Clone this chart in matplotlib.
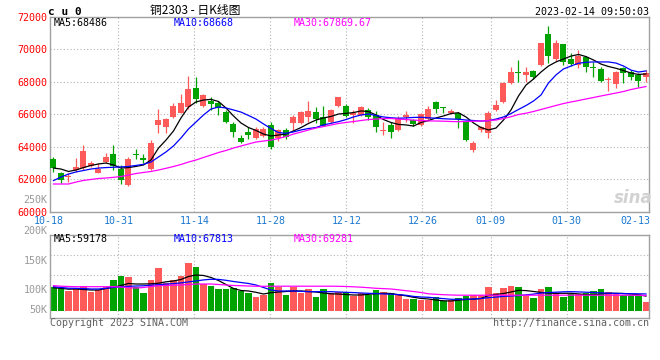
"""
cu0 daily K-line chart (copper 2303) with volume panel, Sina style.
"""

import numpy as np
import matplotlib
matplotlib.use('Agg')
import matplotlib.pyplot as plt
from matplotlib.transforms import blended_transform_factory

plt.rcParams['font.family'] = ['DejaVu Sans Mono']

# --- data -------------------------------------------------------------
date_labels = ['10-18', '10-31', '11-14', '11-28', '12-12', '12-26', '01-09', '01-30', '02-13']
date_index = [0, 9, 19, 29, 39, 49, 58, 68, 78]

opens = [63240, 62380, 62130, 62580, 62690, 62850, 62380, 63090, 63560, 62670,
         61660, 63590, 63320, 62640, 65330, 65240, 65820, 66100, 66470, 67600,
         66540, 66820, 66670, 66160, 65410, 64530, 64930, 64570, 64700, 65320,
         64550, 65040, 65490, 65450, 65860, 66160, 65860, 65550, 66530, 66510,
         65960, 65960, 66270, 65990, 64950, 65350, 65040, 65820, 65650, 65350,
         65700, 66780, 66400, 66060, 66100, 65550, 63810, 65040, 64840, 66270,
         66780, 67910, 68600, 68420, 68680, 69030, 70920, 69380, 70300, 69380,
         69030, 69500, 68850, 68770, 68130, 67850, 68870, 68620, 68420, 68280]
highs = [63400, 62480, 62400, 63300, 64120, 63150, 62990, 63620, 64090, 62860,
         63350, 63900, 63590, 64420, 66300, 65760, 66680, 67250, 68360, 68290,
         67280, 67050, 66820, 66270, 65500, 64760, 65240, 65240, 65250, 65550,
         65100, 65140, 65960, 66220, 66840, 66430, 66510, 66310, 67080, 66640,
         66270, 66510, 66390, 66200, 65530, 65530, 65900, 66220, 65700, 66100,
         66510, 66800, 66470, 66300, 66150, 65600, 64360, 65300, 66220, 66880,
         68000, 68930, 69340, 68930, 68720, 70400, 71430, 70570, 70330, 69750,
         69950, 69550, 69230, 68930, 68280, 68650, 68930, 68700, 68520, 68700]
lows = [62480, 61800, 61860, 62460, 62610, 62770, 62380, 63010, 62610, 61720,
        61580, 63260, 63010, 62580, 64850, 64870, 65760, 66060, 66310, 66680,
        66450, 66270, 65960, 65450, 64630, 64220, 64470, 64490, 64590, 63900,
        64390, 64470, 65040, 65410, 65550, 65450, 65280, 65450, 66470, 65820,
        65450, 65900, 65650, 64930, 64730, 64530, 64980, 65550, 65300, 65280,
        65600, 66100, 66060, 66000, 65140, 64350, 63700, 64900, 64530, 66200,
        66700, 67850, 68010, 68010, 68200, 68950, 69150, 69300, 69030, 69000,
        68830, 68620, 68280, 68000, 67450, 67600, 67910, 68110, 67700, 68000]
closes = [62700, 61970, 62230, 62780, 63750, 62990, 62640, 63400, 62830, 61940,
          63240, 63500, 63200, 64220, 65650, 65700, 66510, 66680, 67540, 66920,
          67160, 66610, 66420, 65560, 64930, 64300, 64760, 65120, 65130, 64010,
          65010, 64630, 65860, 66160, 66210, 65700, 65300, 66270, 67050, 65900,
          66100, 66430, 65860, 65220, 65040, 64930, 65760, 65960, 65400, 66000,
          66310, 66310, 66370, 66220, 65700, 64420, 64220, 65240, 66060, 66560,
          67940, 68620, 68560, 68620, 68280, 70360, 69580, 70400, 69230, 69080,
          69580, 68930, 68830, 68050, 68160, 68620, 68520, 68310, 68070, 68560]

ma5 = [62700, 62640, 62490, 62580, 62730, 62860, 62950, 63010, 62890, 62700,
       62730, 62800, 62890, 63200, 63930, 64420, 64980, 65780, 66450, 66760,
       66880, 66920, 66790, 66390, 65900, 65470, 65190, 65010, 64790, 64670,
       64730, 64790, 64980, 65190, 65440, 65650, 65780, 65870, 66020, 66060,
       66110, 66210, 66170, 65960, 65680, 65500, 65380, 65350, 65280, 65500,
       65620, 65780, 65900, 66050, 66100, 65840, 65470, 65190, 65040, 65160,
       65650, 66270, 67130, 67800, 68170, 68600, 68970, 69220, 69400, 69580,
       69680, 69550, 69340, 69090, 68940, 68830, 68690, 68540, 68450, 68486]
ma10 = [61930, 62150, 62330, 62460, 62550, 62640, 62700, 62730, 62750, 62770,
        62800, 62860, 62930, 63070, 63380, 63690, 64060, 64550, 65100, 65530,
        65960, 66330, 66450, 66390, 66270, 66140, 65930, 65710, 65410, 65130,
        64880, 64835, 64920, 65040, 65130, 65190, 65350, 65450, 65550, 65680,
        65840, 65960, 66020, 65930, 65840, 65790, 65760, 65780, 65810, 65820,
        65790, 65760, 65730, 65710, 65700, 65650, 65620, 65590, 65610, 65710,
        65840, 66050, 66300, 66540, 66820, 67190, 67930, 68420, 68790, 68970,
        69140, 69200, 69220, 69220, 69220, 69150, 68970, 68720, 68600, 68668]
ma30 = [61720, 61720, 61720, 61840, 61940, 62000, 62060, 62090, 62130, 62180,
        62270, 62365, 62430, 62490, 62580, 62685, 62795, 62920, 63070, 63195,
        63350, 63500, 63655, 63780, 63930, 64055, 64180, 64300, 64360, 64420,
        64515, 64640, 64790, 64910, 65040, 65160, 65250, 65345, 65440, 65500,
        65560, 65620, 65680, 65710, 65745, 65745, 65710, 65680, 65650, 65620,
        65600, 65590, 65580, 65560, 65550, 65560, 65580, 65590, 65620, 65650,
        65745, 65855, 65990, 66070, 66175, 66300, 66420, 66545, 66665, 66760,
        66850, 66945, 67035, 67130, 67220, 67310, 67405, 67525, 67620, 67710]

volume = [97200, 90700, 81000, 90700, 100000, 77000, 83800, 97200, 124300, 140500,
          137700, 94800, 72900, 124300, 174200, 111000, 124300, 140500, 194400, 178200,
          106900, 100000, 87900, 87900, 90700, 81000, 72900, 56700, 63600, 113400,
          97200, 63600, 97200, 72900, 87900, 56700, 87900, 71700, 77000, 77000,
          59500, 70500, 63600, 83800, 77000, 72900, 67600, 47400, 47400, 43300,
          43300, 54300, 40500, 43300, 50200, 59500, 63600, 63600, 97200, 72900,
          93200, 101300, 97200, 63600, 52700, 87900, 97200, 70500, 56700, 67600,
          67600, 71700, 81000, 87900, 77000, 68900, 63600, 63600, 63600, 36500]
vol_ma5 = [92700, 90700, 87100, 87900, 85900, 83800, 83800, 89900, 94800, 102100,
           110200, 108100, 108100, 108900, 111400, 117000, 120300, 126400, 138500, 144600,
           142600, 134500, 122300, 106100, 89900, 81800, 79800, 74500, 67600, 72900,
           75700, 77800, 79800, 79800, 77800, 75700, 71700, 68400, 67600, 65600,
           63600, 63600, 66400, 68900, 70500, 69700, 64400, 60300, 54300, 49800,
           47400, 43300, 40100, 39300, 42500, 45400, 46600, 49400, 61600, 65600,
           69700, 75700, 82600, 81400, 77800, 74100, 70900, 70500, 70500, 70500,
           68000, 65200, 64800, 67600, 70100, 70500, 69700, 67200, 64800, 59178]
vol_ma10 = [97200, 94000, 91100, 90700, 89500, 87900, 87900, 90700, 94800, 97200,
            98800, 100000, 100800, 103300, 105300, 107700, 109800, 112600, 116600, 120300,
            124700, 127200, 126800, 123100, 118300, 114200, 110200, 104100, 94000, 83800,
            79800, 79800, 79800, 78600, 77000, 77000, 77000, 77000, 75700, 74500,
            73300, 71700, 70500, 69300, 68000, 66800, 65200, 62400, 57900, 55500,
            54300, 51400, 49000, 46200, 46200, 46600, 47400, 49400, 52700, 55100,
            57900, 59500, 61200, 64000, 67200, 71300, 73700, 74900, 76500, 77000,
            76100, 74900, 73700, 72100, 70900, 70100, 69300, 68900, 68400, 67813]
vol_ma30 = [101300, 99200, 98000, 97200, 97200, 97200, 97200, 97200, 97200, 96000,
            93200, 91900, 94000, 98000, 101300, 102100, 103300, 104100, 106100, 108100,
            108100, 108100, 106100, 104100, 102100, 101300, 100000, 99200, 98800, 99200,
            99200, 99200, 99200, 99200, 99200, 99200, 99200, 99200, 98800, 98000,
            96800, 95200, 93200, 90700, 89500, 87900, 84600, 81000, 77800, 73700,
            68400, 66400, 64800, 63600, 62800, 62800, 62800, 62800, 62800, 62800,
            62800, 62800, 62800, 62800, 62800, 62800, 62800, 62800, 62800, 62800,
            62800, 62800, 62800, 62800, 62800, 62800, 62800, 62800, 62400, 61600]

price_ticks = [60000, 62000, 64000, 66000, 68000, 70000, 72000]
vol_labels = ['250K', '200K', '150K', '100K', '50K']

# --- layout (pixels of a 660x360 canvas) ------------------------------
W, H = 660, 360
RED = '#ff5a5a'
GREEN = '#00a300'
GRID = '#b4b4b4'
FRAME = '#a0a0a0'
DATE_BLUE = '#1a78d0'


def fx(px):
    return px / W


def fy(py):
    return 1 - py / H


fig = plt.figure(figsize=(W / 100, H / 100), dpi=100)
fig.patch.set_facecolor('white')


def add_panel(left, top, right, bottom):
    return fig.add_axes([fx(left), fy(bottom), (right - left) / W, (bottom - top) / H])


ax = add_panel(50.5, 16.7, 649.3, 212)
vax = add_panel(50.5, 234.7, 649.3, 318.3)

x = np.arange(len(opens))
o = np.array(opens)
c = np.array(closes)
up = c >= o
colors = np.where(up, RED, GREEN)

# candle i sits at 53.5 + 7.5*i px; date grid is spaced a bit wider (7.6 px)
xlim = ((50.5 - 53.5) / 7.5, (649.3 - 53.5) / 7.5)
grid_x = [(49.9 + 7.6 * i - 53.5) / 7.5 for i in date_index]

for a in (ax, vax):
    a.set_xlim(*xlim)
    a.set_xticks([])
    for s in a.spines.values():
        s.set_color(FRAME)
        s.set_linewidth(1)
    for gx in grid_x[1:8]:
        a.axvline(gx, color=GRID, lw=0.8, ls=(0, (1, 2)), zorder=1)

# price panel
ax.set_ylim(60000, 72000)
ax.set_yticks(price_ticks)
ax.set_yticklabels([str(t) for t in price_ticks])
ax.tick_params(axis='y', length=0, pad=2.6, labelcolor='#ff0000', labelsize=7.2)
for t in price_ticks[1:-1]:
    ax.axhline(t, color=GRID, lw=0.8, ls=(0, (1, 2)), zorder=1)

ax.vlines(x, lows, highs, colors=colors, lw=0.9, zorder=2)
body = np.maximum(np.abs(c - o), 70)
ax.bar(x, body, bottom=np.minimum(o, c), width=0.8, color=colors, lw=0, zorder=3)

ax.plot(x, ma5, color='black', lw=0.9, zorder=4)
ax.plot(x, ma10, color='#0000ff', lw=0.9, zorder=4)
ax.plot(x, ma30, color='#ff00ff', lw=0.9, zorder=4)

# volume panel: bar base at y=310.7 px, 4050 lots per px
vax.set_ylim(-7.6 * 4050, 76.0 * 4050)
vax.set_yticks([])
for gy in (55.7 * 4050, 35.7 * 4050):
    vax.axhline(gy, color=GRID, lw=0.8, ls=(0, (1, 2)), zorder=1)
vax.bar(x, volume, width=0.82, color=colors, lw=0, zorder=2)
vax.plot(x, vol_ma5, color='black', lw=0.9, zorder=3)
vax.plot(x, vol_ma10, color='#0000ff', lw=0.9, zorder=3)
vax.plot(x, vol_ma30, color='#ff00ff', lw=0.9, zorder=3)

# --- texts --------------------------------------------------------------
fig.text(fx(48.5), fy(12), 'c u 0', fontsize=8, fontweight='bold', ha='left', va='center')
fig.text(fx(195), fy(10.5), '铜2303 - 日K线图', fontsize=8.5, ha='center', va='center',
         family=['Noto Sans CJK SC', 'DejaVu Sans'])
fig.text(fx(649), fy(12), '2023-02-14 09:50:03', fontsize=7.2, ha='right', va='center')

for txt, px, col in (('MA5:68486', 54, 'black'), ('MA10:68668', 174, '#0000ff'),
                     ('MA30:67869.67', 294, '#ff00ff')):
    fig.text(fx(px), fy(23.5), txt, fontsize=7.2, color=col, ha='left', va='center')
for txt, px, col in (('MA5:59178', 54, 'black'), ('MA10:67813', 174, '#0000ff'),
                     ('MA30:69281', 294, '#ff00ff')):
    fig.text(fx(px), fy(238.5), txt, fontsize=7.2, color=col, ha='left', va='center')

for txt, py in zip(vol_labels, (200, 231, 261, 290, 310)):
    fig.text(fx(47.5), fy(py), txt, fontsize=7.2, color='#999999', ha='right', va='center')

trans = blended_transform_factory(ax.transData, fig.transFigure)
label_x = [(49 - 53.5) / 7.5] + grid_x[1:8] + [(635 - 53.5) / 7.5]
for lx, lab in zip(label_x, date_labels):
    ax.text(lx, fy(221.5), lab, transform=trans, fontsize=7.2, color=DATE_BLUE,
            ha='center', va='center', clip_on=False)

fig.text(fx(50), fy(323.5), 'Copyright 2023 SINA.COM', fontsize=7.2, color='#606060',
         ha='left', va='center')
fig.text(fx(649), fy(323.5), 'http://finance.sina.com.cn', fontsize=7.2, color='#606060',
         ha='right', va='center')
fig.text(fx(653), fy(198), 'sina', fontsize=12, color='#d2d2d2', fontstyle='italic',
         fontweight='bold', family='DejaVu Sans', ha='right', va='center')

fig.savefig('out.png', dpi=100, facecolor='white')
